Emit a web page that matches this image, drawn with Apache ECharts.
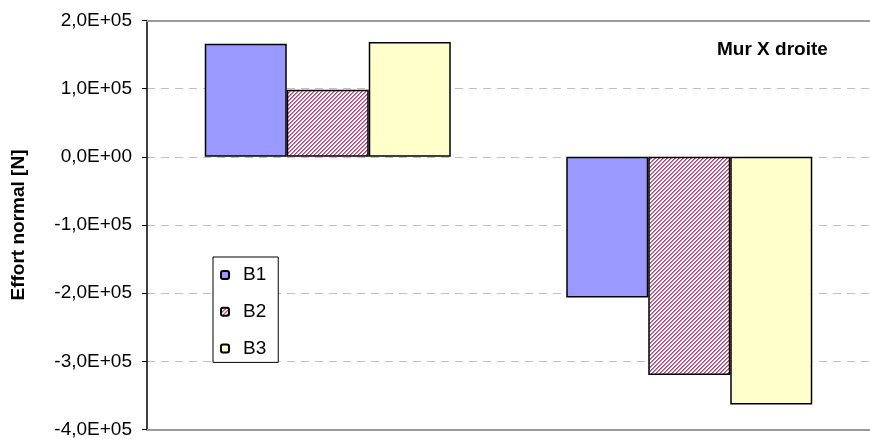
<!DOCTYPE html>
<html>
<head>
<meta charset="utf-8">
<style>
  html, body { margin: 0; padding: 0; background: #ffffff; }
  #chart { width: 870px; height: 439px; }
</style>
<script src="https://cdn.jsdelivr.net/npm/echarts@6/dist/echarts.min.js"></script>
</head>
<body>
<div id="chart"></div>
<script>
// Effort normal per load case, wall "Mur X droite"
const categories = ['Cas 1', 'Cas 2'];
const seriesNames = ['B1', 'B2', 'B3'];
const valuesB1 = [166000, -206400];
const valuesB2 = [98400, -320200];
const valuesB3 = [168600, -363400];

const yMin = -400000;
const yMax = 200000;
const yStep = 100000;

// Scientific label in French notation, e.g. -1,0E+05
function sciLabel(v) {
  if (v === 0) return '0,0E+00';
  const exp = Math.floor(Math.log10(Math.abs(v)) + 1e-9);
  const mant = v / Math.pow(10, exp);
  const e = Math.abs(exp);
  return mant.toFixed(1).replace('.', ',') + 'E' + (exp >= 0 ? '+' : '-') + (e < 10 ? '0' + e : e);
}

// Fine diagonal hatch tile for B2
function hatchTile() {
  const c = document.createElement('canvas');
  c.width = 4; c.height = 4;
  const ctx = c.getContext('2d');
  ctx.fillStyle = '#ffffff';
  ctx.fillRect(0, 0, 4, 4);
  for (let y = 0; y < 4; y++) {
    for (let x = 0; x < 4; x++) {
      const d = (x + y) % 4;
      if (d === 0) { ctx.fillStyle = '#b8477f'; ctx.fillRect(x, y, 1, 1); }
      else if (d === 1) { ctx.fillStyle = '#d27aa3'; ctx.fillRect(x, y, 1, 1); }
    }
  }
  return c;
}

const FONT = "'Liberation Sans', Arial, sans-serif";
const fills = ['#9999ff', { image: hatchTile(), repeat: 'repeat' }, '#ffffcc'];
const seriesData = [valuesB1, valuesB2, valuesB3];

const chart = echarts.init(document.getElementById('chart'), null, { renderer: 'canvas' });

chart.setOption({
  animation: false,
  backgroundColor: '#ffffff',
  textStyle: { fontFamily: FONT },
  grid: { left: 147, top: 20.5, width: 738, height: 413, containLabel: false },
  title: {
    text: 'Mur X droite',
    left: 712,
    top: 35,
    textStyle: { fontFamily: FONT, fontWeight: 'bold', fontSize: 19, color: '#000000' }
  },
  legend: {
    orient: 'vertical',
    left: 213,
    top: 257,
    padding: [8, 12, 4, 7],
    itemGap: 16.7,
    itemWidth: 8,
    itemHeight: 8,
    borderColor: '#000000',
    borderWidth: 1,
    backgroundColor: '#ffffff',
    data: seriesNames,
    textStyle: { fontFamily: FONT, fontSize: 19, color: '#000000', lineHeight: 20, padding: [0, 0, 0, 9] }
  },
  xAxis: [
    {
      type: 'category',
      data: categories,
      position: 'bottom',
      axisLine: { onZero: false, lineStyle: { color: '#9a9a9a', width: 2 } },
      axisTick: { show: false },
      axisLabel: { show: false },
      splitLine: { show: false }
    },
    {
      type: 'category',
      data: categories,
      position: 'top',
      axisLine: { onZero: false, lineStyle: { color: '#9a9a9a', width: 2 } },
      axisTick: { show: false },
      axisLabel: { show: false },
      splitLine: { show: false }
    }
  ],
  yAxis: {
    type: 'value',
    min: yMin,
    max: yMax,
    interval: yStep,
    name: 'Effort normal [N]',
    nameLocation: 'middle',
    nameGap: 119,
    nameTextStyle: { fontFamily: FONT, fontWeight: 'bold', fontSize: 19, color: '#000000' },
    axisLine: { show: true, lineStyle: { color: '#000000', width: 1.5 } },
    axisTick: { show: true, inside: false, length: 5, lineStyle: { color: '#000000', width: 1 } },
    axisLabel: {
      margin: 15,
      fontFamily: FONT,
      fontSize: 19,
      color: '#000000',
      formatter: sciLabel
    },
    splitLine: { show: true, lineStyle: { color: '#c0c0c0', width: 1, type: [8, 6] } }
  },
  series: seriesNames.map((name, i) => ({
    name: name,
    type: 'bar',
    xAxisIndex: 0,
    data: seriesData[i],
    barWidth: 82,
    barGap: '0%',
    itemStyle: { color: fills[i], borderColor: '#000000', borderWidth: 1.5 }
  }))
});
</script>
</body>
</html>
